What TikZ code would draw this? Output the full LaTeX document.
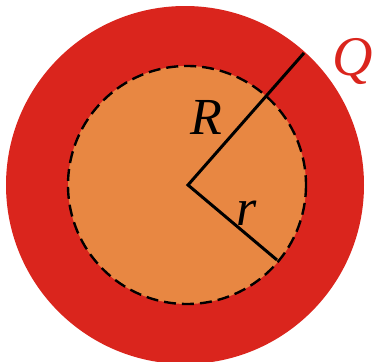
\documentclass[tikz,border=0pt]{standalone}
\usepackage{fontspec}
\setmainfont{Liberation Serif}
\usepackage{tikz}
\definecolor{shellred}{RGB}{218,37,29}
\definecolor{coreorange}{RGB}{232,135,66}
\begin{document}
\begin{tikzpicture}[x=1pt,y=-1pt,
  radius line/.style={line width=3pt, black},
  lbl/.style={font=\fontsize{52}{52}\selectfont\itshape, inner sep=0pt}]
\useasboundingbox (0,0) rectangle (376,362);
\fill[shellred] (185,185) circle[radius=179];
\fill[coreorange] (187,185) circle[radius=119];
\draw[black, line width=2.4pt, dash pattern=on 12pt off 6pt] (187,185) circle[radius=119];
\coordinate (O) at (188,185);
\coordinate (A) at (304,53);
\coordinate (B) at (277,260);
\draw[radius line, line join=miter] (A) -- (O) -- (B);
\node[lbl] (R) at (206,117) {R};
\node[lbl] (r) at (247,213) {r};
\node[lbl, text=shellred, font=\fontsize{56}{56}\selectfont\itshape] (Q) at (353,61) {Q};
\end{tikzpicture}
\end{document}
